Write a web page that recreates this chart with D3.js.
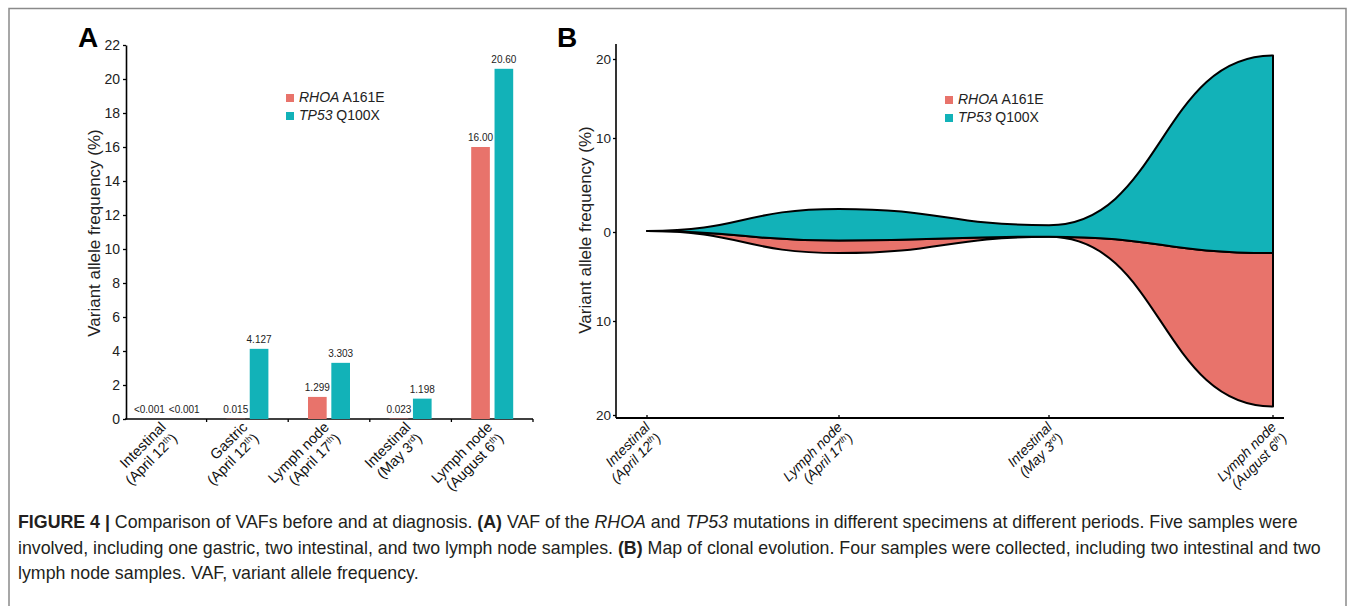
<!DOCTYPE html>
<html>
<head>
<meta charset="utf-8">
<script src="https://cdn.jsdelivr.net/npm/d3@7"></script>
<style>
  body { margin: 0; background: #fff; }
  svg { display: block; font-family: "Liberation Sans", Arial, sans-serif; }
</style>
</head>
<body>
<svg width="1355" height="606"></svg>
<script>
// panel A: five specimens
const sitesA = ['Intestinal', 'Gastric', 'Lymph node', 'Intestinal', 'Lymph node'];
const datesA = ['April 12', 'April 12', 'April 17', 'May 3', 'August 6'];
const supsA = ['th', 'th', 'th', 'rd', 'th'];
const rhoaA = [0, 0.015, 1.299, 0.023, 16.00];
const tp53A = [0, 4.127, 3.303, 1.198, 20.60];
const rhoaLabels = ['<0.001', '0.015', '1.299', '0.023', '16.00'];
const tp53Labels = ['<0.001', '4.127', '3.303', '1.198', '20.60'];
const ticksA = d3.range(0, 23, 2);

// panel B: four samples on the clonal map
const sitesB = ['Intestinal', 'Lymph node', 'Intestinal', 'Lymph node'];
const datesB = ['April 12', 'April 17', 'May 3', 'August 6'];
const supsB = ['th', 'th', 'rd', 'th'];
const rhoaB = [0, 1.299, 0.023, 16.00];
const tp53B = [0, 3.303, 1.198, 20.60];
const ticksB = [20, 10, 0, -10, -20];

const red = '#e8736b';
const teal = '#12b2b8';

const svg = d3.select('svg');

// frame
svg.append('path')
    .attr('d', 'M9,610 V8.5 H1346 V610')
    .attr('fill', 'none')
    .attr('stroke', '#8a8a8a')
    .attr('stroke-width', 1.5);

// ---------- A ----------
const gA = svg.append('g');

const x0 = d3.scaleBand().domain(d3.range(sitesA.length)).range([125, 533]);
const bw = x0.bandwidth();
const x1 = d3.scaleBand()
    .domain(['rhoa', 'tp53'])
    .range([bw / 2 - 21, bw / 2 + 21])
    .paddingInner(0.2);
const yA = d3.scaleLinear().domain([0, 22]).range([419, 45]);

gA.append('text')
    .attr('x', 78).attr('y', 47)
    .attr('font-size', 28).attr('font-weight', 'bold')
    .text('A');

const axA = gA.append('g')
    .attr('transform', 'translate(126,0)')
    .call(d3.axisLeft(yA).tickValues(ticksA).tickSize(3).tickSizeOuter(0).tickPadding(3));
axA.select('.domain').attr('stroke-width', 1.6);
axA.selectAll('.tick line').attr('stroke-width', 1.3);
axA.selectAll('.tick text').attr('font-size', 14).attr('fill', '#222')
    .attr('font-family', '"Liberation Sans", Arial, sans-serif');

gA.append('line')
    .attr('x1', x0.range()[0]).attr('x2', x0.range()[1])
    .attr('y1', yA(0)).attr('y2', yA(0))
    .attr('stroke', '#000').attr('stroke-width', 1.6);

const edgesA = d3.range(1, sitesA.length + 1).map(i => i < sitesA.length ? x0(i) : x0.range()[1]);
gA.selectAll('.xtick')
    .data(edgesA)
    .join('line')
    .attr('x1', d => d).attr('x2', d => d)
    .attr('y1', yA(0)).attr('y2', yA(0) + 3)
    .attr('stroke', '#000').attr('stroke-width', 1.3);

const rowsA = sitesA.map((s, i) => ({ i, rhoa: rhoaA[i], tp53: tp53A[i] }));
const colour = { rhoa: red, tp53: teal };
const labelsA = { rhoa: rhoaLabels, tp53: tp53Labels };

const groups = gA.selectAll('.grp')
    .data(rowsA)
    .join('g')
    .attr('transform', d => `translate(${x0(d.i)},0)`);

groups.selectAll('rect')
    .data(d => ['rhoa', 'tp53'].map(k => ({ k, v: d[k] })))
    .join('rect')
    .attr('x', d => x1(d.k))
    .attr('y', d => yA(d.v))
    .attr('width', x1.bandwidth())
    .attr('height', d => yA(0) - yA(d.v))
    .attr('fill', d => colour[d.k]);

// "<0.001" pairs are too wide for the bar slots, so push them apart from the group centre
groups.selectAll('.val')
    .data(d => ['rhoa', 'tp53'].map(k => ({ k, v: d[k], t: labelsA[k][d.i] })))
    .join('text')
    .attr('x', d => d.t[0] !== '<' ? x1(d.k) + x1.bandwidth() / 2 : (d.k === 'rhoa' ? bw / 2 - 1 : bw / 2 + 3))
    .attr('y', d => yA(d.v) - 6)
    .attr('text-anchor', d => d.t[0] !== '<' ? 'middle' : (d.k === 'rhoa' ? 'end' : 'start'))
    .attr('font-size', 10)
    .attr('fill', '#222')
    .text(d => d.t);

function tickLabel(g, site, date, sup, size, italic) {
    const t = g.append('text')
        .attr('text-anchor', 'end')
        .attr('transform', 'rotate(-45)')
        .attr('font-size', size)
        .attr('font-style', italic ? 'italic' : null)
        .attr('fill', '#111');
    t.append('tspan').attr('x', 0).attr('dy', 0).text(site);
    const l2 = t.append('tspan').attr('x', 0).attr('dy', '1.1em');
    l2.append('tspan').text('(' + date);
    l2.append('tspan').attr('baseline-shift', 'super').attr('font-size', size * 0.6).text(sup);
    l2.append('tspan').text(')');
}

sitesA.forEach((s, i) => {
    const g = gA.append('g').attr('transform', `translate(${x0(i) + bw / 2 + 1},428)`);
    tickLabel(g, s, datesA[i], supsA[i], 14.5, false);
});

gA.append('text')
    .attr('transform', 'translate(94,233) rotate(-90)')
    .attr('dy', '0.35em')
    .attr('text-anchor', 'middle')
    .attr('font-size', 17)
    .attr('fill', '#222')
    .text('Variant allele frequency (%)');

function legend(g, x, y) {
    const items = [['RHOA', ' A161E', red], ['TP53', ' Q100X', teal]];
    items.forEach((it, j) => {
        const row = g.append('g').attr('transform', `translate(${x},${y + j * 18})`);
        row.append('rect').attr('x', 0).attr('y', -8).attr('width', 8).attr('height', 8).attr('fill', it[2]);
        const t = row.append('text').attr('x', 13).attr('y', 0).attr('font-size', 14).attr('fill', '#222');
        t.append('tspan').attr('font-style', 'italic').text(it[0]);
        t.append('tspan').text(it[1]);
    });
}
legend(gA, 286, 102);

// ---------- B ----------
const gB = svg.append('g');

// the four samples sit at uneven steps along the original axis
const xB = d3.scaleLinear().domain([0, 1, 2, 3]).range([647, 839, 1049, 1273]);
const yB = d3.scaleLinear().domain([-19.5, 19.5]).range([418, 44]);
// tick positions as printed on the original axis
const yTickB = d3.scaleLinear().domain([-20, -10, 0, 10, 20]).range([415, 321, 232, 138, 59]);

gB.append('text')
    .attr('x', 557).attr('y', 47)
    .attr('font-size', 28).attr('font-weight', 'bold')
    .text('B');

const rowsB = sitesB.map((s, i) => ({ rhoa: rhoaB[i], tp53: tp53B[i] }));
const series = d3.stack()
    .keys(['rhoa', 'tp53'])
    .offset(d3.stackOffsetSilhouette)(rowsB);

const area = d3.area()
    .x((d, i) => xB(i))
    .y0(d => yB(d[0]))
    .y1(d => yB(d[1]))
    .curve(d3.curveBumpX);

gB.selectAll('.stream')
    .data(series)
    .join('path')
    .attr('d', area)
    .attr('fill', d => colour[d.key])
    .attr('stroke', '#000')
    .attr('stroke-width', 2)
    .attr('stroke-linejoin', 'round');

const axB = gB.append('g')
    .attr('transform', 'translate(616,0)')
    .call(d3.axisLeft(yTickB).tickValues(ticksB).tickFormat(d => Math.abs(d)).tickSize(3).tickSizeOuter(0).tickPadding(2));
axB.select('.domain').remove();
axB.selectAll('.tick line').attr('stroke-width', 1.3);
axB.selectAll('.tick text').attr('font-size', 13.5).attr('fill', '#222')
    .attr('font-family', '"Liberation Sans Narrow", "Liberation Sans", Arial, sans-serif');

gB.append('line')
    .attr('x1', 616).attr('x2', 616)
    .attr('y1', yB.range()[1]).attr('y2', yB.range()[0])
    .attr('stroke', '#000').attr('stroke-width', 1.6);
gB.append('line')
    .attr('x1', 616).attr('x2', 1284)
    .attr('y1', yB.range()[0]).attr('y2', yB.range()[0])
    .attr('stroke', '#000').attr('stroke-width', 1.8);

gB.selectAll('.xtick')
    .data(d3.range(sitesB.length))
    .join('line')
    .attr('x1', d => xB(d)).attr('x2', d => xB(d))
    .attr('y1', yB.range()[0]).attr('y2', yB.range()[0] - 3)
    .attr('stroke', '#000').attr('stroke-width', 1.3);

sitesB.forEach((s, i) => {
    const g = gB.append('g').attr('transform', `translate(${xB(i) + 4},428)`);
    tickLabel(g, s, datesB[i], supsB[i], 14, true);
});

gB.append('text')
    .attr('transform', 'translate(585,230) rotate(-90)')
    .attr('dy', '0.35em')
    .attr('text-anchor', 'middle')
    .attr('font-size', 17)
    .attr('fill', '#222')
    .text('Variant allele frequency (%)');

legend(gB, 945, 104);

// ---------- caption ----------
const captionLines = [
    [['FIGURE 4 | ', 'b'], ['Comparison of VAFs before and at diagnosis. ', ''], ['(A)', 'b'], [' VAF of the ', ''], ['RHOA', 'i'], [' and ', ''], ['TP53', 'i'], [' mutations in different specimens at different periods. Five samples were', '']],
    [['involved, including one gastric, two intestinal, and two lymph node samples. ', ''], ['(B)', 'b'], [' Map of clonal evolution. Four samples were collected, including two intestinal and two', '']],
    [['lymph node samples. VAF, variant allele frequency.', '']]
];

const cap = svg.append('g').attr('font-size', 17.8).attr('fill', '#231f20');
captionLines.forEach((parts, j) => {
    const t = cap.append('text').attr('x', 18).attr('y', 528 + j * 25.5).attr('xml:space', 'preserve');
    parts.forEach(p => {
        t.append('tspan')
            .attr('font-weight', p[1] === 'b' ? 'bold' : null)
            .attr('font-style', p[1] === 'i' ? 'italic' : null)
            .text(p[0]);
    });
});
</script>
</body>
</html>
